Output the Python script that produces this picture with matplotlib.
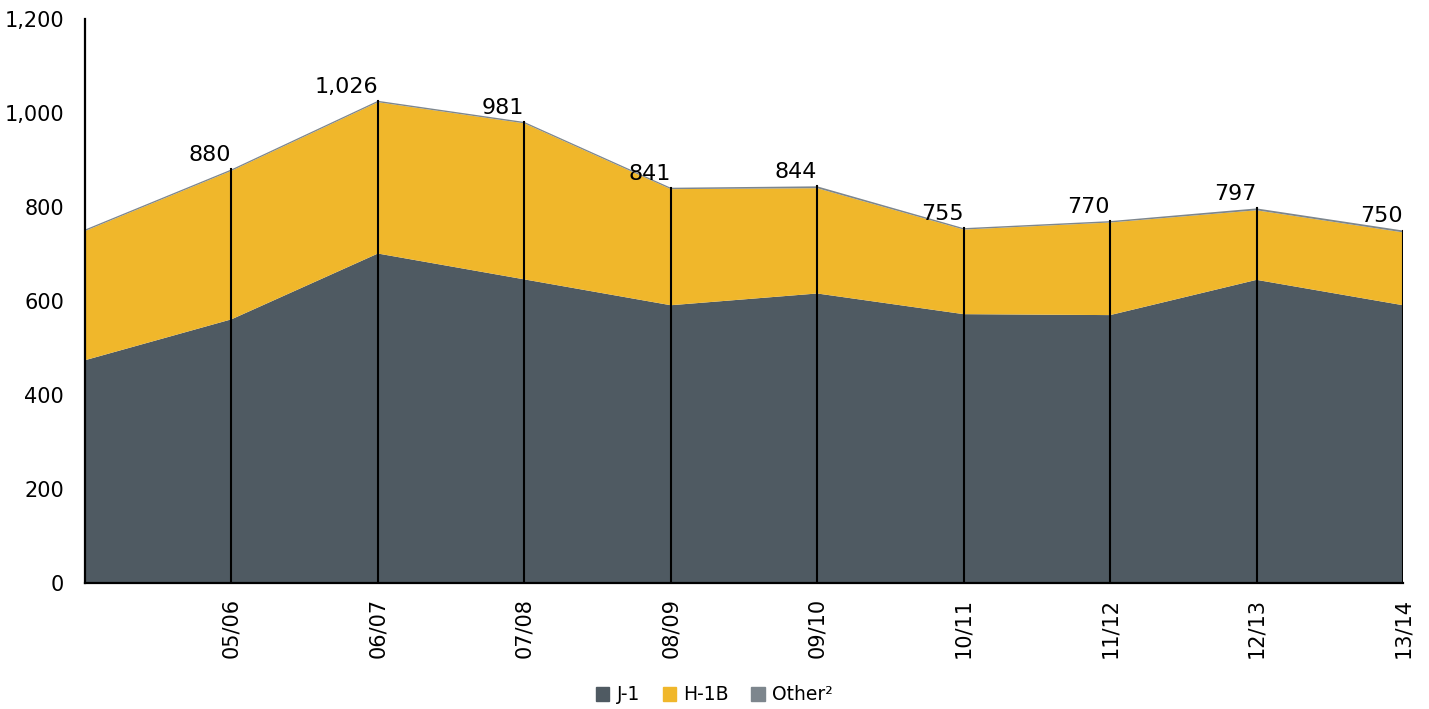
import matplotlib.pyplot as plt
from matplotlib.patches import Patch

years = ["04/05", "05/06", "06/07", "07/08", "08/09", "09/10", "10/11", "11/12", "12/13", "13/14"]
totals = [752, 880, 1026, 981, 841, 844, 755, 770, 797, 750]
j1 = [474, 561, 701, 646, 591, 616, 572, 570, 645, 591]
other = [3, 3, 3, 3, 3, 4, 3, 3, 4, 4]
h1b = [t - j - o for t, j, o in zip(totals, j1, other)]

c_j1 = "#4F5A62"
c_h1b = "#F0B72B"
c_other = "#7D868D"

plt.rcParams['font.family'] = ['DejaVu Sans']

fig = plt.figure(figsize=(14.29, 7.09), dpi=100)
ax = fig.add_axes([85 / 1429, 1 - 583 / 709, (1403 - 85) / 1429, (583 - 19) / 709])

x = list(range(len(years)))
ax.stackplot(x, j1, h1b, other, colors=[c_j1, c_h1b, c_other], linewidth=0)

# drop lines from each point down to the axis
for i in x[1:]:
    ax.plot([i, i], [0, totals[i]], color="black", lw=1.5, zorder=3)
    ax.text(i, totals[i] + 9, f"{totals[i]:,}", ha="right", va="bottom", fontsize=16)

ax.set_xlim(0, len(years) - 1)
ax.set_ylim(0, 1200)
ax.set_yticks(range(0, 1201, 200))
ax.set_yticklabels([f"{v:,}" for v in range(0, 1201, 200)], fontsize=15)
ax.set_xticks(x[1:])
ax.set_xticklabels(years[1:], rotation=90, fontsize=15)
ax.tick_params(length=0)
ax.tick_params(axis="x", pad=11)
ax.tick_params(axis="y", pad=15)

for s in ["top", "right"]:
    ax.spines[s].set_visible(False)
for s in ["left", "bottom"]:
    ax.spines[s].set_linewidth(1.6)
    ax.spines[s].set_color("black")

handles = [Patch(color=c_j1, label="J-1"), Patch(color=c_h1b, label="H-1B"),
           Patch(color=c_other, label="Other²")]
fig.legend(handles=handles, loc="center", bbox_to_anchor=(0.5, 1 - 695 / 709), ncol=3,
           frameon=False, fontsize=13.5, handlelength=0.7, handleheight=0.7,
           handletextpad=0.4, columnspacing=1.2)

fig.savefig("out.png", dpi=100)
